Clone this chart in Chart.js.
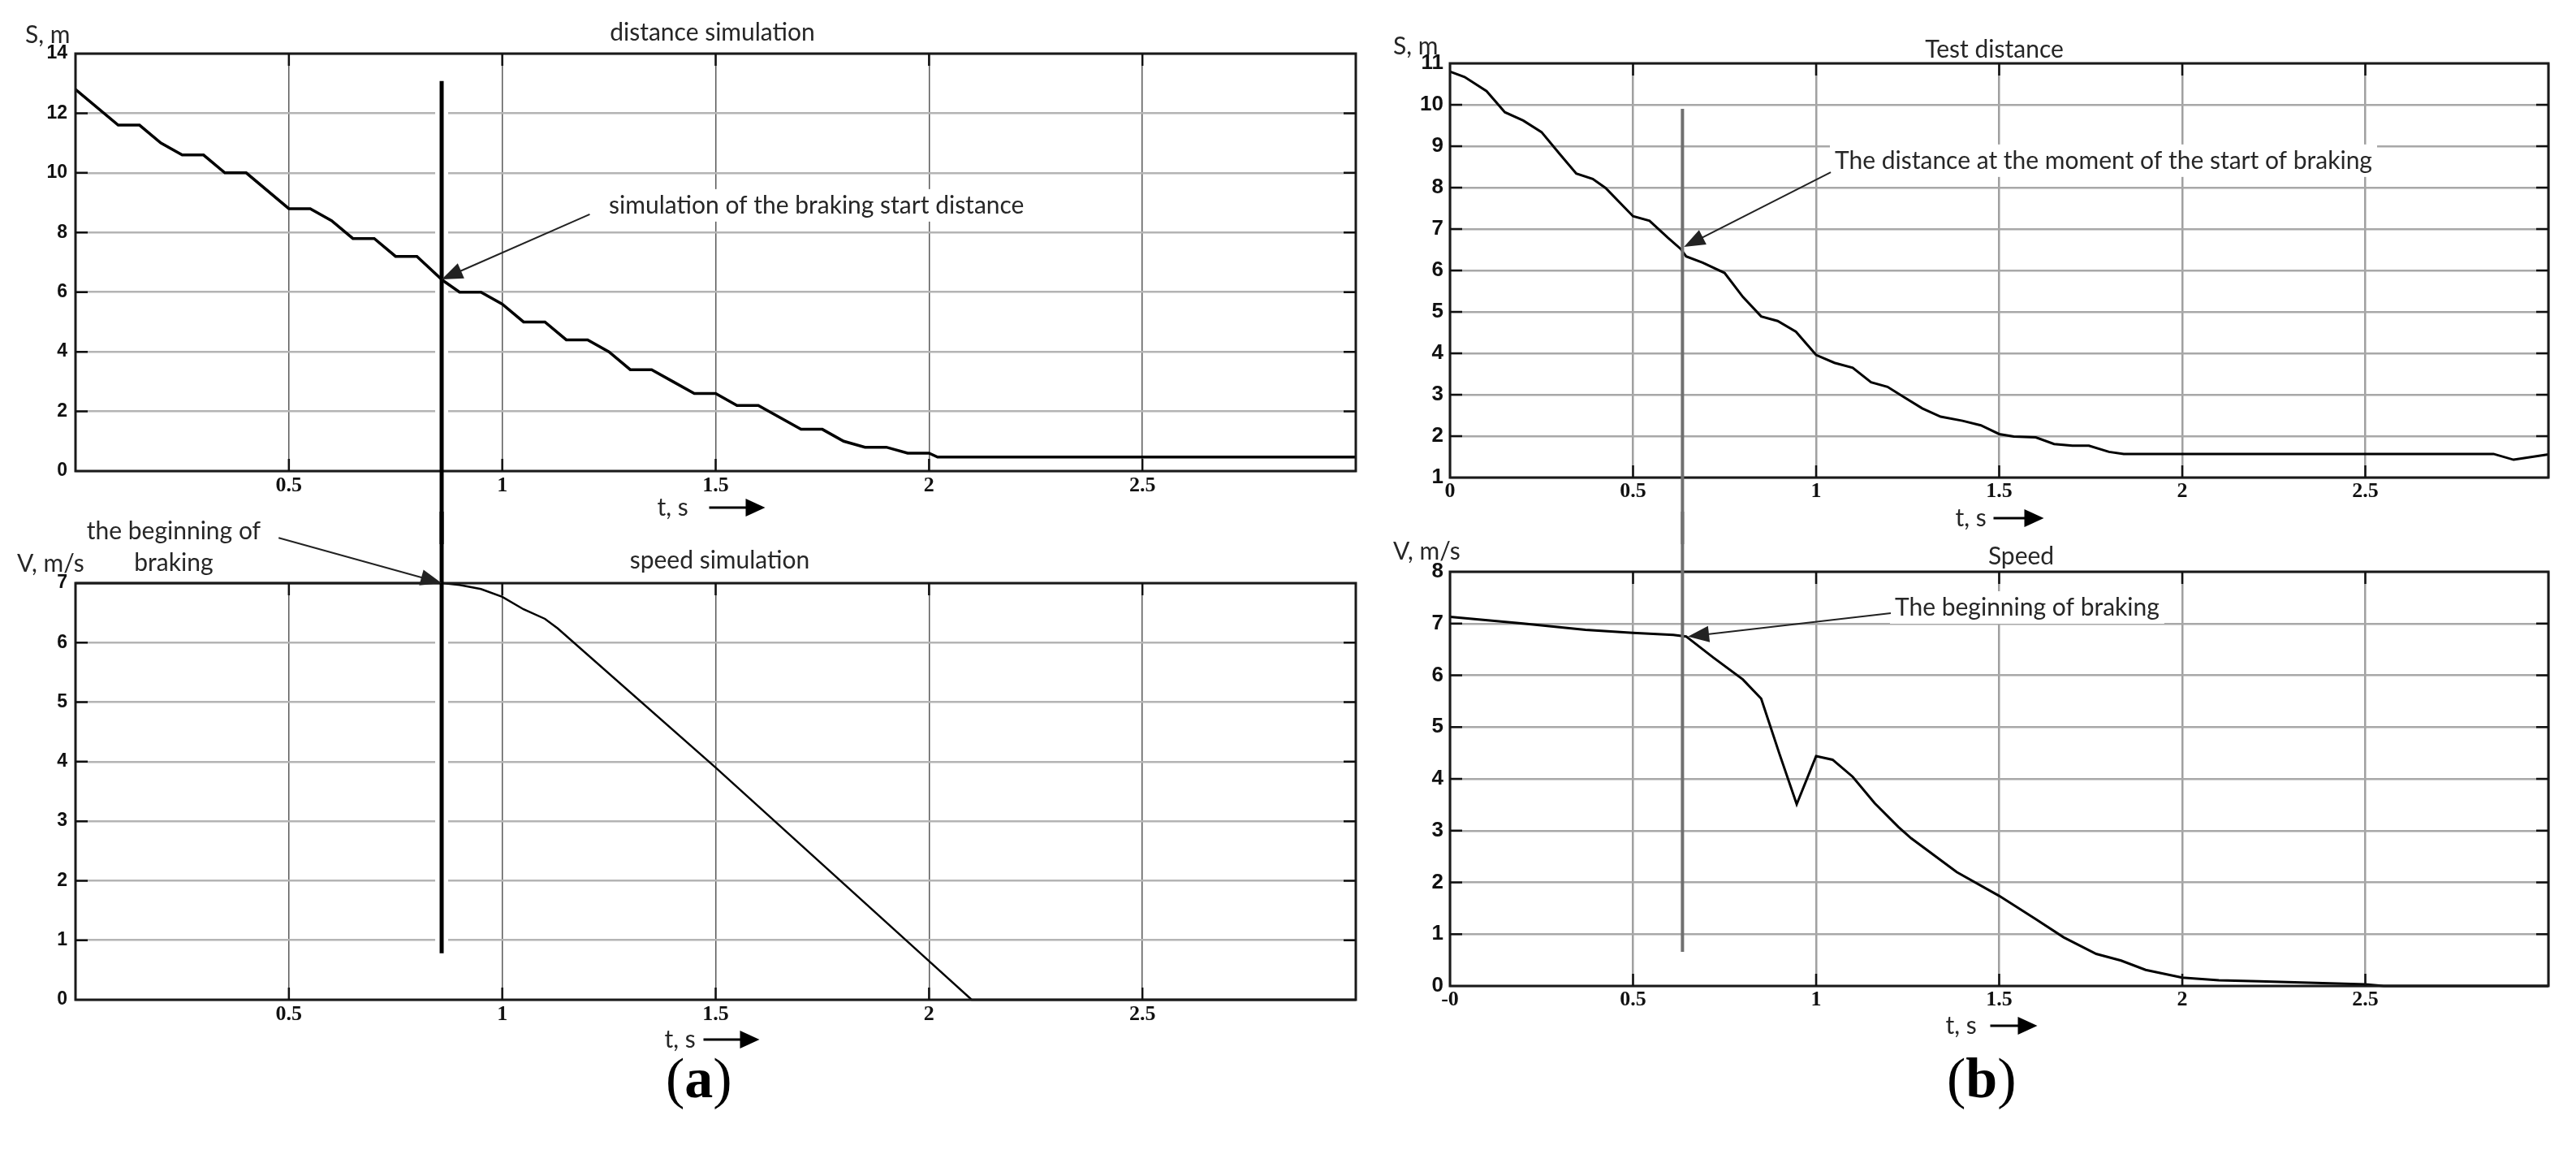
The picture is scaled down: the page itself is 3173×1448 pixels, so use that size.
<!DOCTYPE html>
<html><head><meta charset="utf-8">
<script src="https://cdn.jsdelivr.net/npm/chart.js@4.4.1/dist/chart.umd.min.js"></script>
<style>
html,body{margin:0;padding:0;background:#fff}
body{width:3173px;height:1448px;position:relative;overflow:hidden}
canvas{position:absolute}
.lbl{position:absolute;font-family:'Liberation Serif','Times New Roman',serif;font-size:70px;line-height:70px;color:#000;white-space:nowrap}
.lbl b{font-weight:bold}
</style></head><body>
<canvas id="ca1" width="1720" height="670" style="left:0;top:0"></canvas>
<canvas id="ca2" width="1720" height="690" style="left:0;top:630px"></canvas>
<canvas id="cb1" width="1473" height="670" style="left:1700px;top:0"></canvas>
<canvas id="cb2" width="1473" height="690" style="left:1700px;top:630px"></canvas>
<div class="lbl" style="left:820px;top:1293px">(<b>a</b>)</div>
<div class="lbl" style="left:2398px;top:1293px">(<b>b</b>)</div>
<script>
// ---------- DATA ----------
// (a) distance simulation, S (m) vs t (s)
const tSimDist = [0,0.1,0.15,0.2,0.25,0.3,0.35,0.4,0.5,0.55,0.6,0.65,0.7,0.75,0.8,0.86,0.9,0.95,1.0,1.05,1.1,1.15,1.2,1.25,1.3,1.35,1.4,1.45,1.5,1.55,1.6,1.7,1.75,1.8,1.85,1.9,1.95,2.0,2.02,3.0];
const sSimDist = [12.8,11.6,11.6,11.0,10.6,10.6,10.0,10.0,8.8,8.8,8.4,7.8,7.8,7.2,7.2,6.4,6.0,6.0,5.6,5.0,5.0,4.4,4.4,4.0,3.4,3.4,3.0,2.6,2.6,2.2,2.2,1.4,1.4,1.0,0.8,0.8,0.6,0.6,0.47,0.47];
// (a) speed simulation, V (m/s) vs t (s)
const tSimSpeed = [0,0.86,0.9,0.95,1.0,1.05,1.1,1.13,1.5,2.0,2.1,3.0];
const vSimSpeed = [7,7,6.97,6.9,6.77,6.56,6.4,6.24,3.9,0.65,0,0];
// (b) test distance, S (m) vs t (s)
const tTestDist = [0,0.04,0.1,0.15,0.2,0.25,0.3,0.345,0.39,0.425,0.5,0.545,0.595,0.63,0.645,0.69,0.75,0.8,0.85,0.895,0.945,1.0,1.05,1.1,1.15,1.195,1.24,1.29,1.34,1.4,1.45,1.5,1.54,1.6,1.65,1.7,1.745,1.8,1.84,2.85,2.905,3.0];
const sTestDist = [10.8,10.67,10.33,9.82,9.62,9.34,8.81,8.34,8.21,7.99,7.31,7.2,6.79,6.52,6.34,6.19,5.94,5.36,4.89,4.78,4.52,3.96,3.77,3.65,3.3,3.19,2.94,2.67,2.47,2.37,2.26,2.05,1.99,1.97,1.81,1.77,1.77,1.62,1.57,1.57,1.43,1.56];
// (b) test speed, V (m/s) vs t (s)
const tTestSpeed = [0,0.2,0.37,0.5,0.61,0.645,0.72,0.8,0.85,0.9,0.947,1.0,1.045,1.1,1.16,1.225,1.26,1.384,1.5,1.6,1.676,1.765,1.833,1.9,2.0,2.1,2.21,2.5,2.55,3.0];
const vTestSpeed = [7.13,7.0,6.88,6.82,6.78,6.75,6.34,5.92,5.55,4.48,3.51,4.44,4.37,4.04,3.53,3.07,2.85,2.2,1.74,1.29,0.94,0.62,0.49,0.31,0.16,0.11,0.09,0.03,0,0];
// braking start moments
const tBrakeSim = 0.858;
const tBrakeTest = 0.635;
// tick labels
const xTickText_a = ['', '0.5', '1', '1.5', '2', '2.5', ''];
const xTickText_bTop = ['0', '0.5', '1', '1.5', '2', '2.5', ''];
const xTickText_bBottom = ['-0', '0.5', '1', '1.5', '2', '2.5', ''];
const yTickText_aTop = ['0','2','4','6','8','10','12','14'];
const yTickText_aBottom = ['0','1','2','3','4','5','6','7'];
const yTickText_bTop = ['1','2','3','4','5','6','7','8','9','10','11'];
const yTickText_bBottom = ['0','1','2','3','4','5','6','7','8'];

// ---------- DRAWING ----------
const TXT = '30px Lato, "Open Sans", sans-serif';
const TXT_COLOR = '#262626';

function arrow(ctx, x1, y1, x2, y2, len, wid, lw, col) {
  const ang = Math.atan2(y2 - y1, x2 - x1);
  const c = Math.cos(ang), s = Math.sin(ang);
  const bx = x2 - len * c, by = y2 - len * s;
  ctx.strokeStyle = col; ctx.lineWidth = lw;
  ctx.beginPath(); ctx.moveTo(x1, y1); ctx.lineTo(bx + 2 * c, by + 2 * s); ctx.stroke();
  ctx.fillStyle = col;
  ctx.beginPath(); ctx.moveTo(x2, y2);
  ctx.lineTo(bx + wid / 2 * s, by - wid / 2 * c);
  ctx.lineTo(bx - wid / 2 * s, by + wid / 2 * c);
  ctx.closePath(); ctx.fill();
}

function makeDeco(d) {
  return {
    id: 'deco',
    beforeDatasetsDraw(chart) {
      const {ctx, chartArea: a, scales: {x, y}} = chart;
      ctx.save();
      ctx.fillStyle = '#fff';
      if (d.vline && d.vline.gap) {
        const px = x.getPixelForValue(d.vline.t);
        ctx.fillRect(px - d.vline.gap / 2, a.top + 2, d.vline.gap, a.bottom - a.top - 4);
      }
      ctx.font = TXT;
      (d.notes || []).forEach(n => {
        if (!n.bg) return;
        const px = x.getPixelForValue(n.t), py = y.getPixelForValue(n.v);
        const w = ctx.measureText(n.text).width;
        const x0 = n.align === 'center' ? px - w / 2 : px;
        ctx.fillRect(x0 - 6, py - 20, w + 12, 40);
      });
      ctx.restore();
    },
    afterDatasetsDraw(chart) {
      const {ctx, chartArea: a, scales: {x, y}} = chart;
      ctx.save();
      ctx.strokeStyle = '#1a1a1a'; ctx.lineWidth = 3;
      ctx.strokeRect(a.left, a.top, a.right - a.left, a.bottom - a.top);
      ctx.lineWidth = 2.5; ctx.strokeStyle = '#111';
      ctx.beginPath();
      y.ticks.forEach(tk => {
        if (tk.value <= y.min + 1e-9 || tk.value >= y.max - 1e-9) return;
        const py = y.getPixelForValue(tk.value);
        ctx.moveTo(a.left, py); ctx.lineTo(a.left + 15, py);
        ctx.moveTo(a.right - 15, py); ctx.lineTo(a.right, py);
      });
      x.ticks.forEach(tk => {
        if (tk.value <= x.min + 1e-9 || tk.value >= x.max - 1e-9) return;
        const px = x.getPixelForValue(tk.value);
        ctx.moveTo(px, a.top); ctx.lineTo(px, a.top + 15);
        ctx.moveTo(px, a.bottom - 15); ctx.lineTo(px, a.bottom);
      });
      ctx.stroke();
      if (d.vline) {
        const px = x.getPixelForValue(d.vline.t);
        const y1 = d.vline.from === 'top' ? 0 : y.getPixelForValue(d.vline.from);
        const y2 = d.vline.to === 'bottom' ? chart.height : y.getPixelForValue(d.vline.to);
        ctx.strokeStyle = d.vline.color; ctx.lineWidth = d.vline.width;
        ctx.beginPath(); ctx.moveTo(px, y1); ctx.lineTo(px, y2); ctx.stroke();
      }
      ctx.font = TXT; ctx.fillStyle = TXT_COLOR; ctx.textBaseline = 'middle';
      (d.notes || []).forEach(n => {
        ctx.textAlign = n.align;
        ctx.fillStyle = TXT_COLOR;
        ctx.fillText(n.text, x.getPixelForValue(n.t), y.getPixelForValue(n.v));
      });
      (d.arrows || []).forEach(ar => arrow(ctx,
        x.getPixelForValue(ar.from[0]), y.getPixelForValue(ar.from[1]),
        x.getPixelForValue(ar.to[0]), y.getPixelForValue(ar.to[1]), 26, 20, 2, '#222'));
      const cx = (a.left + a.right) / 2;
      ctx.fillStyle = TXT_COLOR;
      ctx.textAlign = 'center';
      ctx.fillText(d.title.text, cx + d.title.dx, a.top + d.title.dy);
      ctx.textAlign = 'left';
      ctx.fillText(d.ylab.text, a.left + d.ylab.dx, a.top + d.ylab.dy);
      ctx.fillText('t, s', cx + d.xlab.dx, a.bottom + d.xlab.dy);
      arrow(ctx, cx + d.xlab.a0, a.bottom + d.xlab.dy, cx + d.xlab.a1, a.bottom + d.xlab.dy, 24, 22, 3, '#000');
      ctx.restore();
    }
  };
}

function makeChart(id, t, v, xText, yText, yMin, yMax, yStep, st, area, deco) {
  const cv = document.getElementById(id);
  const W = cv.width, H = cv.height, YW = 70, XH = 40;
  const cfg = {
    type: 'line',
    data: { datasets: [{
      data: t.map((tt, i) => ({x: tt, y: v[i]})),
      borderColor: '#000', borderWidth: st.lineW, pointRadius: 0, tension: 0, fill: false, clip: 8
    }]},
    options: {
      responsive: false, animation: false, devicePixelRatio: 1,
      events: [],
      layout: {padding: {left: area.left - YW, top: area.top, right: W - area.right, bottom: H - area.bottom - XH}},
      plugins: {legend: {display: false}, tooltip: {enabled: false}, title: {display: false}},
      scales: {
        x: {type: 'linear', min: 0, max: 3,
          afterFit: s => { s.height = XH; },
          ticks: {stepSize: 0.5, autoSkip: false, maxRotation: 0, padding: st.xPad, color: '#111',
            font: {family: 'Liberation Serif', size: st.xFont, weight: 'bold'},
            callback: (val, i) => xText[i]},
          grid: {color: st.gx, lineWidth: st.gxw, drawTicks: false}, border: {display: false}},
        y: {type: 'linear', min: yMin, max: yMax,
          afterFit: s => { s.width = YW; },
          ticks: {stepSize: yStep, autoSkip: false, padding: st.yPad, color: '#111',
            font: {family: 'Liberation Sans', size: st.yFont, weight: 'bold'},
            callback: (val, i) => yText[i]},
          grid: {color: st.gy, lineWidth: st.gyw, drawTicks: false}, border: {display: false}}
      }
    },
    plugins: [makeDeco(deco)]
  };
  const ch = new Chart(cv, cfg);
  for (let k = 0; k < 4; k++) {
    const ca = ch.chartArea;
    const dl = area.left - ca.left, dt = area.top - ca.top, dr = ca.right - area.right, db = ca.bottom - area.bottom;
    if (Math.abs(dl) < 0.3 && Math.abs(dt) < 0.3 && Math.abs(dr) < 0.3 && Math.abs(db) < 0.3) break;
    const p = ch.options.layout.padding;
    ch.options.layout.padding = {left: p.left + dl, top: p.top + dt, right: p.right + dr, bottom: p.bottom + db};
    ch.update('none');
  }
  return ch;
}

const styleA = {lineW: 3.5, xFont: 26, yFont: 23, xPad: 3, yPad: 10, gx: '#5a5a5a', gxw: 1.5, gy: '#b4b4b4', gyw: 2.5};
const styleB = {lineW: 3, xFont: 26, yFont: 26, xPad: 2, yPad: 8, gx: '#a0a0a0', gxw: 2.5, gy: '#a8a8a8', gyw: 2.5};

const charts = [];
charts.push(makeChart('ca1', tSimDist, sSimDist, xTickText_a, yTickText_aTop, 0, 14, 2, styleA,
  {left: 93, top: 66, right: 1670, bottom: 580},
  {title: {text: 'distance simulation', dx: -4, dy: -26},
   ylab: {text: 'S, m', dx: -62, dy: -23},
   xlab: {dx: -72, dy: 45, a0: -8, a1: 61},
   vline: {t: tBrakeSim, from: 13.08, to: 'bottom', color: '#000', width: 5, gap: 16},
   notes: [{text: 'simulation of the braking start distance', t: 1.25, v: 8.91, align: 'left', bg: true}],
   arrows: [{from: [1.205, 8.61], to: [tBrakeSim, 6.43]}]}));
charts.push(makeChart('ca2', tSimSpeed, vSimSpeed, xTickText_a, yTickText_aBottom, 0, 7, 1, Object.assign({}, styleA, {lineW: 2.5}),
  {left: 93, top: 88, right: 1670, bottom: 601},
  {title: {text: 'speed simulation', dx: 5, dy: -28},
   ylab: {text: 'V, m/s', dx: -72, dy: -24},
   xlab: {dx: -63, dy: 49, a0: -15, a1: 54},
   vline: {t: tBrakeSim, from: 'top', to: 0.78, color: '#000', width: 5, gap: 16},
   notes: [{text: 'the beginning of', t: 0.23, v: 7.87, align: 'center'},
           {text: 'braking', t: 0.23, v: 7.33, align: 'center'}],
   arrows: [{from: [0.476, 7.76], to: [tBrakeSim, 7.0]}]}));
charts.push(makeChart('cb1', tTestDist, sTestDist, xTickText_bTop, yTickText_bTop, 1, 11, 1, styleB,
  {left: 86, top: 78, right: 1439, bottom: 588},
  {title: {text: 'Test distance', dx: -6, dy: -17},
   ylab: {text: 'S, m', dx: -70, dy: -21},
   xlab: {dx: -54, dy: 50, a0: -7, a1: 55},
   vline: {t: tBrakeTest, from: 9.9, to: 'bottom', color: '#707070', width: 4},
   notes: [{text: 'The distance at the moment of the start of braking', t: 1.051, v: 8.65, align: 'left', bg: true}],
   arrows: [{from: [1.04, 8.37], to: [0.639, 6.57]}]}));
charts.push(makeChart('cb2', tTestSpeed, vTestSpeed, xTickText_bBottom, yTickText_bBottom, 0, 8, 1, styleB,
  {left: 86, top: 74, right: 1439, bottom: 584},
  {title: {text: 'Speed', dx: 27, dy: -19},
   ylab: {text: 'V, m/s', dx: -70, dy: -25},
   xlab: {dx: -66, dy: 49, a0: -11, a1: 47},
   vline: {t: tBrakeTest, from: 'top', to: 0.66, color: '#707070', width: 4},
   notes: [{text: 'The beginning of braking', t: 1.215, v: 7.31, align: 'left', bg: true}],
   arrows: [{from: [1.204, 7.2], to: [0.65, 6.75]}]}));

if (document.fonts && document.fonts.ready) {
  document.fonts.ready.then(() => charts.forEach(c => c.draw()));
}
</script>
</body></html>
